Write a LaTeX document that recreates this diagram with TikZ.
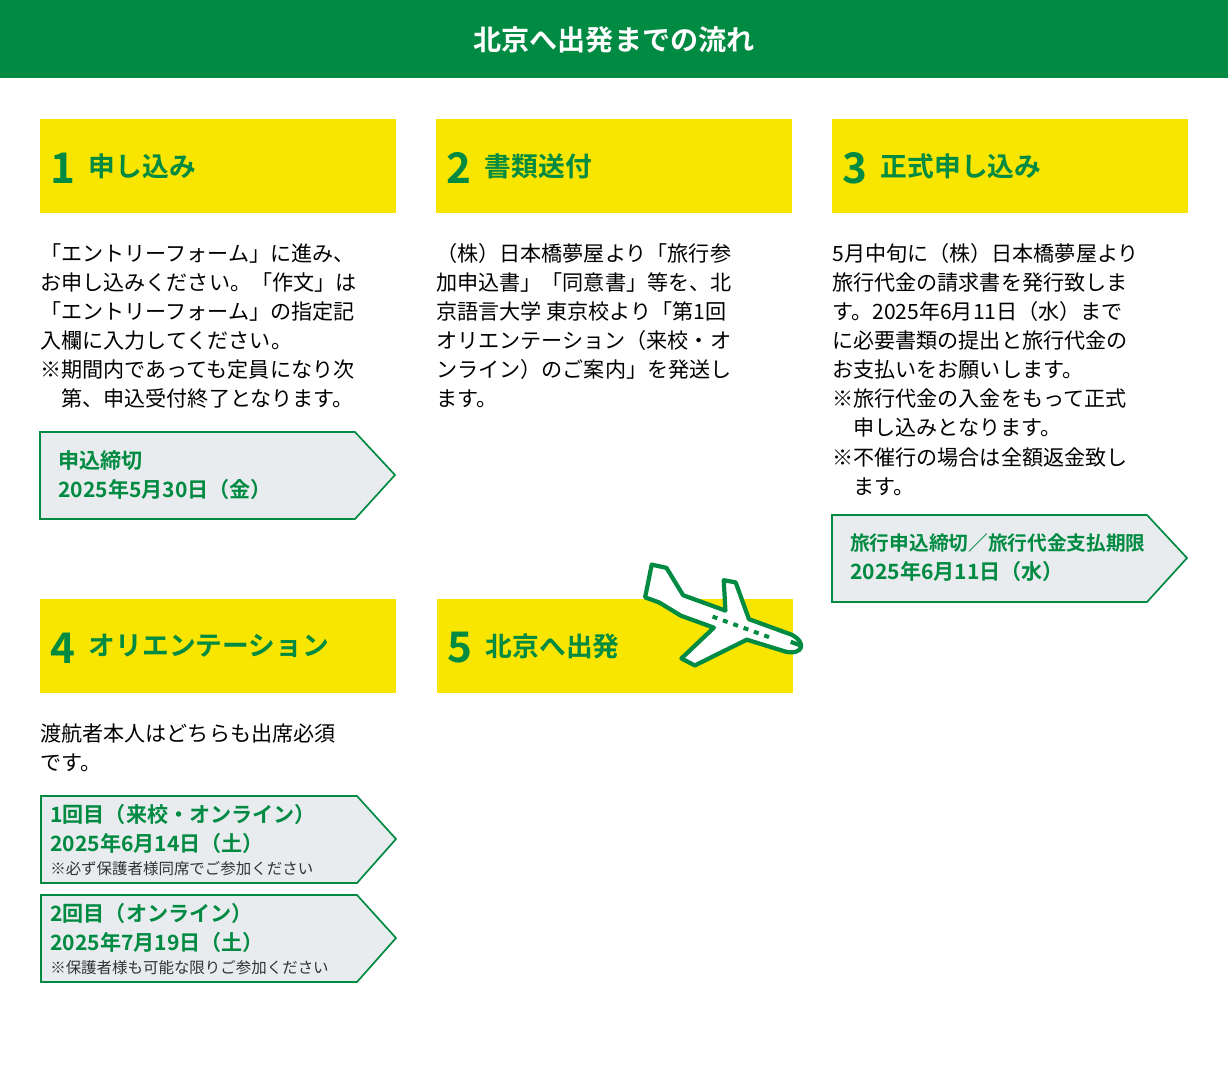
\documentclass[tikz,border=0pt]{standalone}
\usepackage{fontspec}
\setmainfont{Noto Sans CJK JP}
\newfontfamily\jpb{Noto Sans CJK JP Bold}
\newfontfamily\jpr{Noto Sans CJK JP}
\newcommand\smnote[1]{{\jpr\fontsize{11}{12}\selectfont\color{black!80}#1}}
\definecolor{grn}{HTML}{008A42}
\definecolor{ylw}{HTML}{F8E500}
\definecolor{gry}{HTML}{E8ECEE}
\begin{document}
\begin{tikzpicture}[x=0.025cm,y=-0.025cm,
  ybox/.style={fill=ylw,draw=none},
  num/.style={anchor=west,text=grn,font=\jpb\fontsize{30}{30}\selectfont},
  ttl/.style={anchor=west,text=grn,font=\jpb\fontsize{19}{19}\selectfont},
  body/.style={anchor=north west,align=left,inner sep=0pt,font=\fontsize{15}{20.7}\selectfont},
  dl/.style={fill=gry,draw=grn,line width=1.2pt},
  dtxt/.style={anchor=west,align=left,inner sep=0pt,text=grn,font=\jpb\fontsize{15}{20.7}\selectfont}]
\useasboundingbox (0,0) rectangle (1228,1066);
\fill[grn] (0,0) rectangle (1228,78);
\node[text=white,font=\jpb\fontsize{20}{20}\selectfont] (title) at (614,40) {北京へ出発までの流れ};
% yellow boxes
\fill[ybox] (40,119) rectangle (396,213);
\fill[ybox] (436,119) rectangle (792,213);
\fill[ybox] (832,119) rectangle (1188,213);
\fill[ybox] (40,599) rectangle (396,693);
\fill[ybox] (437,599) rectangle (793,693);
\node[num] (n1) at (46,168) {1}; \node[ttl] (t1) at (84,166) {申し込み};
\node[num] (n2) at (442,168) {2}; \node[ttl] (t2) at (480,166) {書類送付};
\node[num] (n3) at (838,168) {3}; \node[ttl] (t3) at (876,166) {正式申し込み};
\node[num] (n4) at (46,648) {4}; \node[ttl] (t4) at (84,646) {オリエンテーション};
\node[num] (n5) at (443,648) {5}; \node[ttl] (t5) at (481,646) {北京へ出発};
% body texts
\node[body] (b1) at (40,243) {「エントリーフォーム」に進み、\\お申し込みください。「作文」は\\「エントリーフォーム」の指定記\\入欄に入力してください。\\※期間内であっても定員になり次\\\hspace{1em}第、申込受付終了となります。};
\node[body] (b2) at (436,243) {（株）日本橋夢屋より「旅行参\\加申込書」「同意書」等を、北\\京語言大学 東京校より「第1回\\オリエンテーション（来校・オ\\ンライン）のご案内」を発送し\\ます。};
\node[body] (b3) at (832,243) {5月中旬に（株）日本橋夢屋より\\旅行代金の請求書を発行致しま\\す。2025年6月11日（水）まで\\に必要書類の提出と旅行代金の\\お支払いをお願いします。\\※旅行代金の入金をもって正式\\\hspace{1em}申し込みとなります。\\※不催行の場合は全額返金致し\\\hspace{1em}ます。};
\node[body] (b4) at (40,723) {渡航者本人はどちらも出席必須\\です。};
% deadline boxes
\draw[dl] (40,432) -- (355,432) -- (395,475) -- (355,519) -- (40,519) -- cycle;
\node[dtxt] (d1) at (58,475) {申込締切\\2025年5月30日（金）};
\draw[dl] (832,515) -- (1147,515) -- (1187,558) -- (1147,602) -- (832,602) -- cycle;
\node[dtxt,font=\jpb\fontsize{14}{20.7}\selectfont] (d3) at (850,558) {旅行申込締切／旅行代金支払期限\\\fontsize{15}{20.7}\selectfont 2025年6月11日（水）};
\draw[dl] (41,796) -- (357,796) -- (396,839) -- (357,883) -- (41,883) -- cycle;
\node[dtxt] (d4a) at (50,840) {1回目（来校・オンライン）\\2025年6月14日（土）\\[-4pt]\smnote{※必ず保護者様同席でご参加ください}};
\draw[dl] (41,895) -- (357,895) -- (396,938) -- (357,982) -- (41,982) -- cycle;
\node[dtxt] (d4b) at (50,939) {2回目（オンライン）\\2025年7月19日（土）\\[-4pt]\smnote{※保護者様も可能な限りご参加ください}};
% airplane
\begin{scope}[shift={(722,620)},rotate=-20]
\draw[grn,line width=3pt,fill=white,line join=round]
 (-80,5) -- (-65,5) -- (-40,10) -- (-5,10) -- (-25,50) -- (-10,52) -- (30,10)
 -- (70,8) .. controls (88,6) and (88,-8) .. (70,-10) -- (25,-10) -- (0,-40) -- (-12,-38) -- (0,-10)
 -- (-45,-10) -- (-70,-30) -- (-85,-28) -- cycle;
\foreach \i in {0,1,2,3,4,5} \fill[grn] (-10+\i*11,-2) rectangle ++(5,4);
\draw[grn,line width=3pt] (72,-3) -- (82,-3);
\end{scope}
\end{tikzpicture}
\end{document}
